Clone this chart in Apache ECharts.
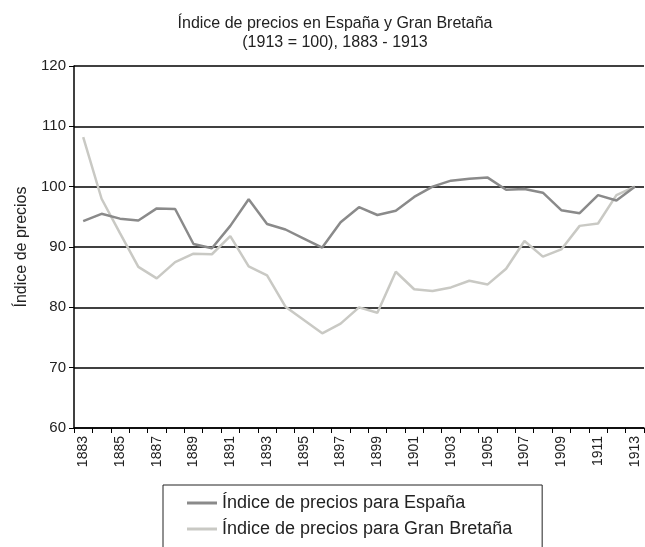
<!DOCTYPE html>
<html>
<head>
<meta charset="utf-8">
<script src="https://cdn.jsdelivr.net/npm/echarts@6/dist/echarts.min.js"></script>
<style>
  html, body { margin: 0; padding: 0; background: #fff; }
  #chart { width: 645px; height: 547px; }
</style>
</head>
<body>
<div id="chart"></div>
<script>
// años 1883 - 1913
const years = [];
for (let y = 1883; y <= 1913; y++) years.push(String(y));

const espana = [
  94.3, 95.5, 94.7, 94.4, 96.4, 96.3, 90.5, 89.8, 93.5, 97.9,
  93.8, 92.9, 91.4, 89.9, 94.1, 96.6, 95.3, 96.0, 98.3, 100.0,
  101.0, 101.3, 101.5, 99.5, 99.6, 99.0, 96.1, 95.6, 98.6, 97.7,
  100.0
];
const granBretana = [
  108.2, 98.0, 92.3, 86.7, 84.8, 87.5, 88.9, 88.8, 91.8, 86.8,
  85.3, 80.1, 77.9, 75.7, 77.3, 80.0, 79.1, 85.9, 83.0, 82.7,
  83.3, 84.4, 83.8, 86.4, 91.0, 88.4, 89.6, 93.5, 93.9, 98.6,
  100.0
];

const font = 'Liberation Sans, Arial, Helvetica, sans-serif';
const chart = echarts.init(document.getElementById('chart'), null, { renderer: 'canvas' });

chart.setOption({
  animation: false,
  textStyle: { fontFamily: font },
  title: {
    text: 'Índice de precios en España y Gran Bretaña\n(1913 = 100), 1883 - 1913',
    left: 330,
    textAlign: 'center',
    top: 9,
    textStyle: { fontSize: 16, fontWeight: 'normal', color: '#222', lineHeight: 19, fontFamily: font }
  },
  grid: { left: 74, right: 1, top: 66, bottom: 119, containLabel: false },
  legend: {
    orient: 'vertical',
    left: 163,
    top: 485,
    height: 120,
    padding: [9, 30, 30, 24],
    borderColor: '#222',
    borderWidth: 1,
    itemWidth: 30,
    itemHeight: 3,
    itemGap: 8,
    itemTextGap: 12,
    icon: 'rect',
    textStyle: { fontSize: 18, color: '#222', fontFamily: font },
    data: ['Índice de precios para España', 'Índice de precios para Gran Bretaña']
  },
  xAxis: {
    type: 'category',
    data: years,
    boundaryGap: true,
    axisLine: { lineStyle: { color: '#000', width: 1.5 } },
    axisTick: { show: true, interval: 0, length: 5, lineStyle: { color: '#000', width: 1 } },
    axisLabel: { interval: 1, rotate: 90, fontSize: 14, color: '#222', margin: 8, fontFamily: font }
  },
  yAxis: {
    type: 'value',
    min: 60,
    max: 120,
    interval: 10,
    name: 'Índice de precios',
    nameLocation: 'middle',
    nameGap: 35,
    nameTextStyle: { fontSize: 16, color: '#222', fontFamily: font },
    axisLine: { show: true, lineStyle: { color: '#000', width: 1.5 } },
    axisTick: { show: true, length: 5, lineStyle: { color: '#000' } },
    axisLabel: { fontSize: 15, color: '#222', margin: 8, fontFamily: font },
    splitLine: { show: true, lineStyle: { color: '#000', width: 1.5 } }
  },
  series: [
    {
      name: 'Índice de precios para España',
      type: 'line',
      data: espana,
      symbol: 'none',
      z: 3,
      itemStyle: { color: '#8a8a8a' },
      lineStyle: { color: '#8a8a8a', width: 2.5 }
    },
    {
      name: 'Índice de precios para Gran Bretaña',
      type: 'line',
      data: granBretana,
      symbol: 'none',
      z: 2,
      itemStyle: { color: '#c9c9c4' },
      lineStyle: { color: '#c9c9c4', width: 2.5 }
    }
  ]
});
</script>
</body>
</html>
